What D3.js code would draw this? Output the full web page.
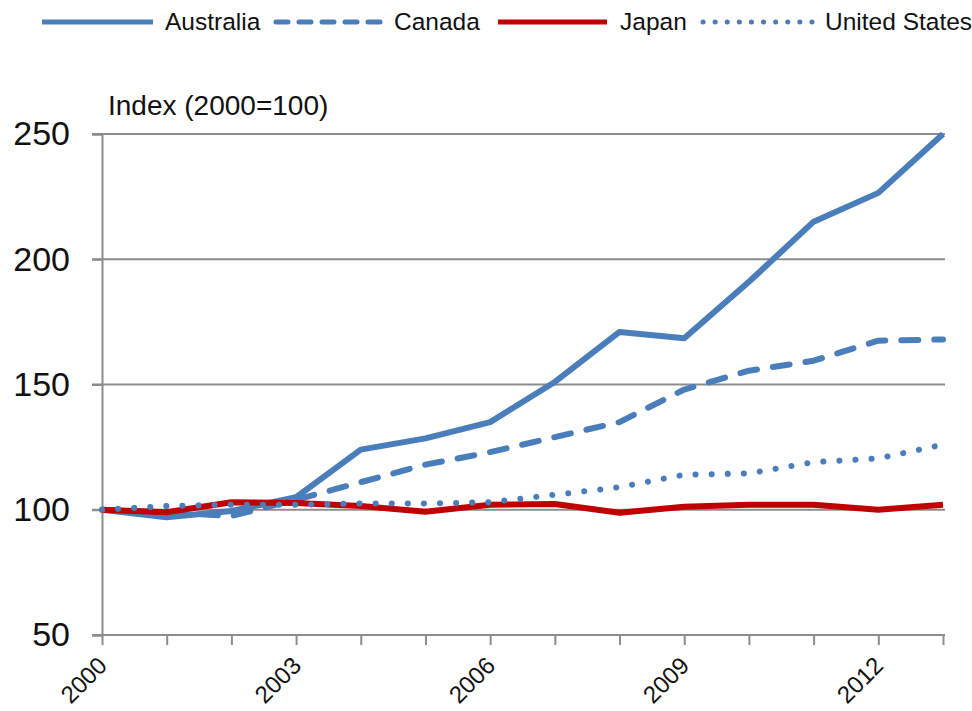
<!DOCTYPE html>
<html>
<head>
<meta charset="utf-8">
<script src="https://cdn.jsdelivr.net/npm/d3@7"></script>
<style>
  html, body { margin: 0; padding: 0; background: #fff; }
  svg { display: block; font-family: "Liberation Sans", Arial, sans-serif; }
</style>
</head>
<body>
<svg id="chart" width="972" height="711"></svg>
<script>
const years = [2000, 2001, 2002, 2003, 2004, 2005, 2006, 2007, 2008, 2009, 2010, 2011, 2012, 2013];
const xTickLabels = [2000, 2003, 2006, 2009, 2012];
const yTicks = [50, 100, 150, 200, 250];
const australia = [100, 97, 99.5, 105, 124, 128.5, 135, 151, 171, 168.5, 191, 215, 226.5, 250];
const canada = [100, 99, 97.5, 104, 111, 118, 123, 129, 135, 148, 155.5, 159.5, 167.5, 168];
const japan = [100, 99, 103, 102.7, 101.5, 99.2, 102, 102.3, 98.8, 101.2, 102, 102, 100, 102];
const unitedStates = [100, 101.5, 102, 102, 102.5, 102.5, 103, 106, 109, 114, 114.5, 119, 120.5, 126];
const seriesNames = ["Australia", "Canada", "Japan", "United States"];
const yAxisTitle = "Index (2000=100)";

const blue = "#4a7ebb", red = "#c00000";
const styles = {
  "Australia": { color: blue, dash: null, cap: "butt", legendDash: null },
  "Canada": { color: blue, dash: "17,16", cap: "round", legendDash: "12,11" },
  "Japan": { color: red, dash: null, cap: "butt", legendDash: null },
  "United States": { color: blue, dash: "0.1,16", cap: "round", legendDash: "0.1,12" }
};
const seriesData = {
  "Australia": australia, "Canada": canada, "Japan": japan, "United States": unitedStates
};

const svg = d3.select("#chart");
const x = d3.scaleLinear().domain([2000, 2013]).range([102, 943]);
const y = d3.scaleLinear().domain([50, 250]).range([635, 134]);
const gridColor = "#8c8c8c";

// gridlines
svg.append("g").selectAll("line").data(yTicks.filter(d => d > 50)).join("line")
  .attr("x1", 92).attr("x2", 945)
  .attr("y1", d => y(d)).attr("y2", d => y(d))
  .attr("stroke", gridColor).attr("stroke-width", 2);

// y axis
const yAxis = svg.append("g").attr("transform", "translate(102,0)")
  .call(d3.axisLeft(y).tickValues(yTicks).tickSize(10).tickPadding(22));
yAxis.select(".domain").attr("stroke", gridColor).attr("stroke-width", 2);
yAxis.selectAll(".tick line").attr("stroke", gridColor).attr("stroke-width", 2);
yAxis.selectAll(".tick text").attr("font-size", 34).attr("fill", "#111")
  .attr("font-family", "Liberation Sans, Arial, sans-serif");

// x axis
const xAxis = svg.append("g").attr("transform", "translate(0,635)")
  .call(d3.axisBottom(x).tickValues(years).tickSize(10).tickFormat(d => xTickLabels.includes(d) ? d : ""));
xAxis.select(".domain").attr("stroke", gridColor).attr("stroke-width", 2)
  .attr("d", "M92,0H945");
xAxis.selectAll(".tick line").attr("stroke", gridColor).attr("stroke-width", 2);
xAxis.selectAll(".tick text")
  .attr("font-size", 24).attr("fill", "#111")
  .attr("font-family", "Liberation Sans, Arial, sans-serif")
  .attr("text-anchor", "end")
  .attr("dy", null).attr("y", 0)
  .attr("transform", "translate(6,32) rotate(-45)");

// axis title
svg.append("text").attr("x", 108).attr("y", 115)
  .attr("font-size", 28).attr("fill", "#111").text(yAxisTitle);

// lines
const line = d3.line().x((d, i) => x(years[i])).y(d => y(d));
seriesNames.forEach(name => {
  const s = styles[name];
  svg.append("path").datum(seriesData[name])
    .attr("d", line)
    .attr("fill", "none")
    .attr("stroke", s.color)
    .attr("stroke-width", 6)
    .attr("stroke-linejoin", "round")
    .attr("stroke-linecap", s.cap)
    .attr("stroke-dasharray", s.dash);
});

// legend
const legendItems = [
  { name: "Australia", x1: 42, x2: 153, tx: 165 },
  { name: "Canada", x1: 276, x2: 380, tx: 394 },
  { name: "Japan", x1: 498, x2: 607, tx: 620 },
  { name: "United States", x1: 703, x2: 813, tx: 825 }
];
const lg = svg.append("g");
legendItems.forEach(it => {
  const s = styles[it.name];
  lg.append("line").attr("x1", it.x1).attr("x2", it.x2).attr("y1", 22).attr("y2", 22)
    .attr("stroke", s.color).attr("stroke-width", 5)
    .attr("stroke-linecap", s.cap)
    .attr("stroke-dasharray", s.legendDash);
  lg.append("text").attr("x", it.tx).attr("y", 30).attr("font-size", 24.5)
    .attr("fill", "#111").text(it.name);
});
</script>
</body>
</html>
